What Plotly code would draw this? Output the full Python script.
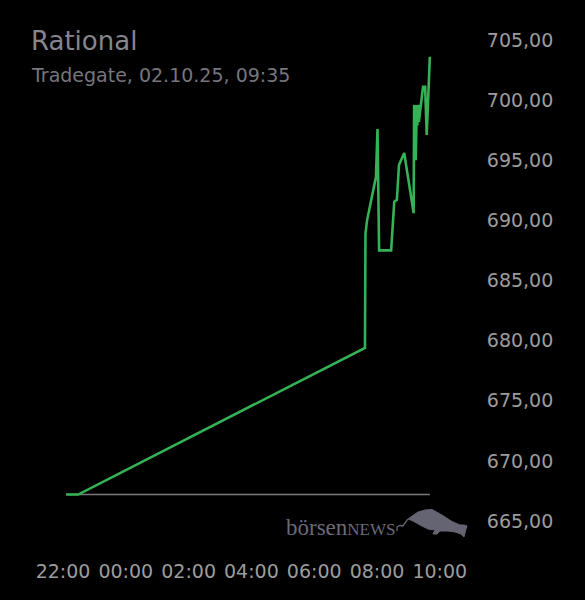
import plotly.graph_objects as go

# ---- data ----
times = [
    "2025-10-01 22:06", "2025-10-01 22:29", "2025-10-02 07:37", "2025-10-02 07:38",
    "2025-10-02 07:41", "2025-10-02 07:58", "2025-10-02 08:01", "2025-10-02 08:04",
    "2025-10-02 08:27", "2025-10-02 08:33", "2025-10-02 08:38", "2025-10-02 08:42",
    "2025-10-02 08:52", "2025-10-02 09:10", "2025-10-02 09:11", "2025-10-02 09:14",
    "2025-10-02 09:16", "2025-10-02 09:17", "2025-10-02 09:19", "2025-10-02 09:20",
    "2025-10-02 09:28", "2025-10-02 09:32", "2025-10-02 09:35", "2025-10-02 09:41",
]
prices = [
    667.2, 667.2, 679.4, 688.9,
    690.0, 693.6, 697.6, 687.5,
    687.5, 691.55, 691.7, 694.6,
    695.6, 690.6, 699.6, 695.0,
    699.6, 697.9, 699.6, 698.2,
    701.1, 701.1, 697.1, 703.6,
]
prev_close = 667.2
tick_times = ["2025-10-01 22:00", "2025-10-02 00:00", "2025-10-02 02:00", "2025-10-02 04:00",
              "2025-10-02 06:00", "2025-10-02 08:00", "2025-10-02 10:00"]
y_ticks = [665, 670, 675, 680, 685, 690, 695, 700, 705]
title_text = "Rational"
subtitle_text = "Tradegate, 02.10.25, 09:35"

W, H = 585, 600
L, R, T, B = 20, 107, 20, 50

fig = go.Figure()
fig.add_trace(go.Scatter(
    x=[times[0], times[-1]], y=[prev_close, prev_close], mode="lines",
    line=dict(color="#7a7a7a", width=1.5), hoverinfo="skip", showlegend=False))
fig.add_trace(go.Scatter(
    x=times, y=prices, mode="lines",
    line=dict(color="#35b255", width=2.6), hoverinfo="skip", showlegend=False))

# paper-coordinate helpers for the logo
pw, ph = W - L - R, H - T - B
def px(x):
    return (x - L) / pw
def py(y):
    return 1 - (y - T) / ph
def mkpath(pts, close=True):
    p = "M " + " L ".join(f"{px(a):.4f},{py(b):.4f}" for a, b in pts)
    return p + (" Z" if close else "")

bull = [(408, 519), (418, 512), (425, 510), (432, 509.5), (442, 515), (452, 521.5),
        (460, 525), (464, 525), (467, 526), (466, 529), (465, 533), (464, 537),
        (461, 534), (455, 532), (448, 531), (440, 531), (437, 534), (433, 534),
        (435, 530), (428, 529), (420, 525), (413, 521)]
tail = [(397, 531), (397, 527), (400, 525.5), (403, 526), (408, 519)]
logo_col = "#646472"
fig.add_shape(type="path", path=mkpath(bull), xref="paper", yref="paper",
              fillcolor=logo_col, line=dict(color=logo_col, width=1))
fig.add_shape(type="path", path=mkpath(tail, close=False), xref="paper", yref="paper",
              line=dict(color=logo_col, width=1.3))

fig.add_annotation(
    text="börsen<span style='font-size:17px'>NEWS</span>", xref="paper", yref="paper",
    x=px(284), y=py(527), xanchor="left", yanchor="middle", showarrow=False,
    font=dict(family="Liberation Serif", size=23, color="#6a6a78"))

fig.add_annotation(text=title_text, xref="paper", yref="paper", x=px(29), y=py(41),
                   xanchor="left", yanchor="middle", showarrow=False,
                   font=dict(family="DejaVu Sans", size=26, color="#85858c"))
fig.add_annotation(text=subtitle_text, xref="paper", yref="paper", x=px(29), y=py(75),
                   xanchor="left", yanchor="middle", showarrow=False,
                   font=dict(family="DejaVu Sans", size=19, color="#76767c"))

fig.update_layout(
    width=W, height=H, margin=dict(l=L, r=R, t=T, b=B),
    paper_bgcolor="#000000", plot_bgcolor="#000000",
    separators=",.",
    font=dict(family="DejaVu Sans", size=19, color="#9c9c9c"),
    xaxis=dict(range=["2025-10-01 20:37:50", "2025-10-02 11:13"], tickvals=tick_times,
               tickformat="%H:%M", showgrid=False, zeroline=False, showline=False,
               ticks="outside", ticklen=4, tickcolor="rgba(0,0,0,0)",
               tickfont=dict(family="DejaVu Sans", size=19, color="#9c9c9c")),
    yaxis=dict(range=[662.59, 706.66], side="right", tickvals=y_ticks, tickformat=".2f",
               showgrid=False, zeroline=False, showline=False, ticks="outside", ticklen=4,
               tickcolor="rgba(0,0,0,0)",
               tickfont=dict(family="DejaVu Sans", size=19, color="#9c9c9c")),
)

fig.write_html("out.html", config={"displayModeBar": False},
               post_script="document.body.style.margin='0';document.body.style.background='#000';")
